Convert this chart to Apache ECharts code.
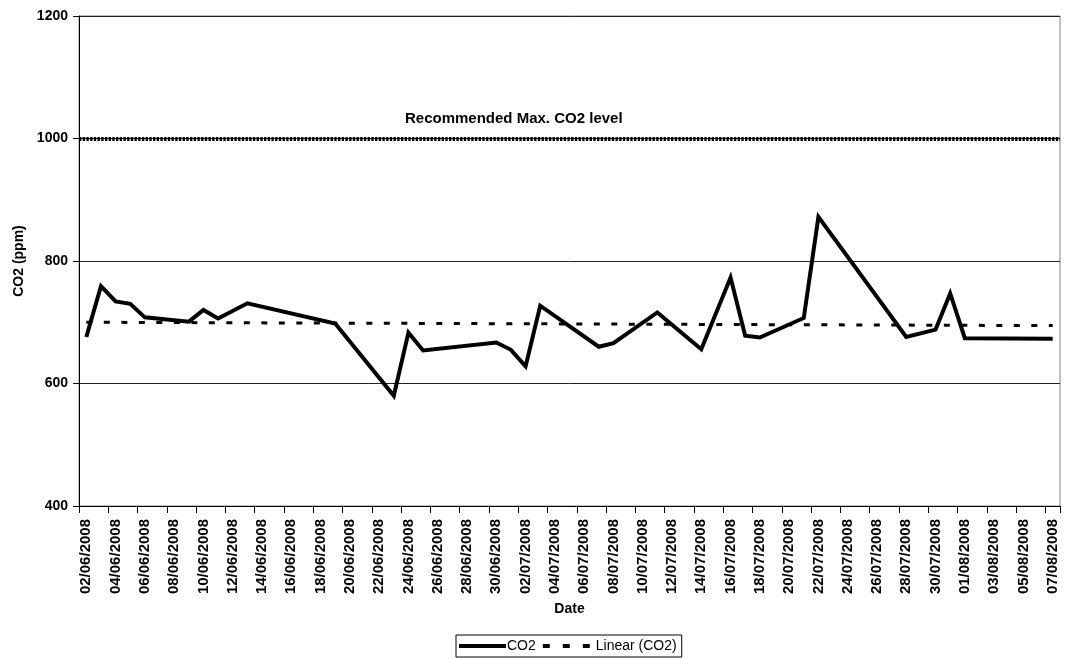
<!DOCTYPE html>
<html>
<head>
<meta charset="utf-8">
<script src="https://cdn.jsdelivr.net/npm/echarts@6/dist/echarts.min.js"></script>
<style>
html,body{margin:0;padding:0;background:#fff;}
#chart{width:1070px;height:659px;}
</style>
</head>
<body>
<div id="chart"></div>
<script>
// All calendar days on the axis (category axis, labels every 2nd day)
var dayCategories = [
 '02/06/2008','03/06/2008','04/06/2008','05/06/2008','06/06/2008','07/06/2008','08/06/2008','09/06/2008','10/06/2008','11/06/2008',
 '12/06/2008','13/06/2008','14/06/2008','15/06/2008','16/06/2008','17/06/2008','18/06/2008','19/06/2008','20/06/2008','21/06/2008',
 '22/06/2008','23/06/2008','24/06/2008','25/06/2008','26/06/2008','27/06/2008','28/06/2008','29/06/2008','30/06/2008','01/07/2008',
 '02/07/2008','03/07/2008','04/07/2008','05/07/2008','06/07/2008','07/07/2008','08/07/2008','09/07/2008','10/07/2008','11/07/2008',
 '12/07/2008','13/07/2008','14/07/2008','15/07/2008','16/07/2008','17/07/2008','18/07/2008','19/07/2008','20/07/2008','21/07/2008',
 '22/07/2008','23/07/2008','24/07/2008','25/07/2008','26/07/2008','27/07/2008','28/07/2008','29/07/2008','30/07/2008','31/07/2008',
 '01/08/2008','02/08/2008','03/08/2008','04/08/2008','05/08/2008','06/08/2008','07/08/2008'
];

// Measured CO2 readings
var co2Dates = [
 '02/06/2008','03/06/2008','04/06/2008','05/06/2008','06/06/2008','09/06/2008','10/06/2008','11/06/2008','13/06/2008','19/06/2008',
 '23/06/2008','24/06/2008','25/06/2008','30/06/2008','01/07/2008','02/07/2008','03/07/2008','07/07/2008','08/07/2008','11/07/2008',
 '14/07/2008','16/07/2008','17/07/2008','18/07/2008','21/07/2008','22/07/2008','28/07/2008','30/07/2008','31/07/2008','01/08/2008',
 '07/08/2008'
];
var co2Values = [
 676, 759, 734, 730, 708, 701, 720, 706, 731, 698,
 580, 683, 654, 667, 655, 628, 727, 660, 666, 716,
 656, 773, 678, 675, 707, 872, 676, 688, 747, 674,
 673
];

// Linear trend line (end points)
var trendDates = ['02/06/2008', '07/08/2008'];
var trendValues = [700, 694.5];

// Recommended maximum
var maxLevel = 1000;
var maxLabel = 'Recommended Max. CO2 level';

var yTicks = {min: 400, max: 1200, interval: 200};

var FONT = "'Liberation Sans', Arial, sans-serif";

var chart = echarts.init(document.getElementById('chart'), null, {renderer: 'canvas'});
chart.setOption({
  animation: false,
  backgroundColor: '#fff',
  grid: {left: 79, right: 10, top: 16, bottom: 153, show: true, borderColor: '#808080', borderWidth: 1},
  legend: {
    data: [
      {name: 'CO2', icon: 'path://M0,0H47V4H0Z', textStyle: {padding: [0, 0, 0, -4]}},
      {name: 'Linear (CO2)', icon: 'path://M0,0H7V4H0Z M20,0H27V4H20Z M40,0H47V4H40Z', textStyle: {padding: [0, 0, 0, 1]}}
    ],
    left: 456, bottom: 2,
    borderColor: '#000', borderWidth: 1, padding: [4, 5, 4, 3],
    itemGap: 7, itemWidth: 47, itemHeight: 4,
    itemStyle: {color: '#000', borderWidth: 0},
    textStyle: {fontFamily: FONT, fontSize: 14, color: '#000'}
  },
  graphic: [{
    type: 'text', left: 405, top: 111,
    style: {text: maxLabel, font: 'bold 15px ' + FONT, fill: '#000'}
  }],
  xAxis: {
    type: 'category',
    data: dayCategories,
    boundaryGap: true,
    name: 'Date',
    nameLocation: 'middle',
    nameGap: 96,
    nameTextStyle: {fontFamily: FONT, fontSize: 14, fontWeight: 'bold', color: '#000'},
    axisLine: {lineStyle: {color: '#000', width: 1}},
    axisTick: {show: true, interval: 1, length: 7, lineStyle: {color: '#000'}},
    axisLabel: {interval: 1, rotate: 90, margin: 13, padding: [8, 0, 0, 0], fontFamily: FONT, fontSize: 15, fontWeight: 'bold', color: '#000'},
    splitLine: {show: false}
  },
  yAxis: {
    type: 'value',
    min: yTicks.min, max: yTicks.max, interval: yTicks.interval,
    name: 'CO2 (ppm)',
    nameLocation: 'middle',
    nameGap: 49,
    nameTextStyle: {fontFamily: FONT, fontSize: 14, fontWeight: 'bold', color: '#000'},
    axisLine: {show: true, lineStyle: {color: '#000', width: 1}},
    axisTick: {show: true, length: 6, lineStyle: {color: '#000'}},
    axisLabel: {margin: 11, fontFamily: FONT, fontSize: 14, fontWeight: 'bold', color: '#000',
      formatter: function (v) { return String(v); }},
    splitLine: {show: true, lineStyle: {color: '#222', width: 1}}
  },
  series: [
    {
      name: 'CO2',
      type: 'line',
      data: co2Dates.map(function (d, i) { return [d, co2Values[i]]; }),
      symbol: 'none',
      lineStyle: {color: '#000', width: 4, join: 'miter'},
      itemStyle: {color: '#000'},
      z: 5,
      markLine: {
        silent: true,
        symbol: ['none', 'none'],
        label: {show: false},
        lineStyle: {color: '#000', width: 4, type: [2.4, 1.3]},
        data: [{yAxis: maxLevel}]
      }
    },
    {
      name: 'Linear (CO2)',
      type: 'line',
      data: trendDates.map(function (d, i) { return [d, trendValues[i]]; }),
      symbol: 'none',
      lineStyle: {color: '#000', width: 3, type: [6, 11.5]},
      itemStyle: {color: '#000'},
      z: 4
    }
  ]
});
</script>
</body>
</html>
